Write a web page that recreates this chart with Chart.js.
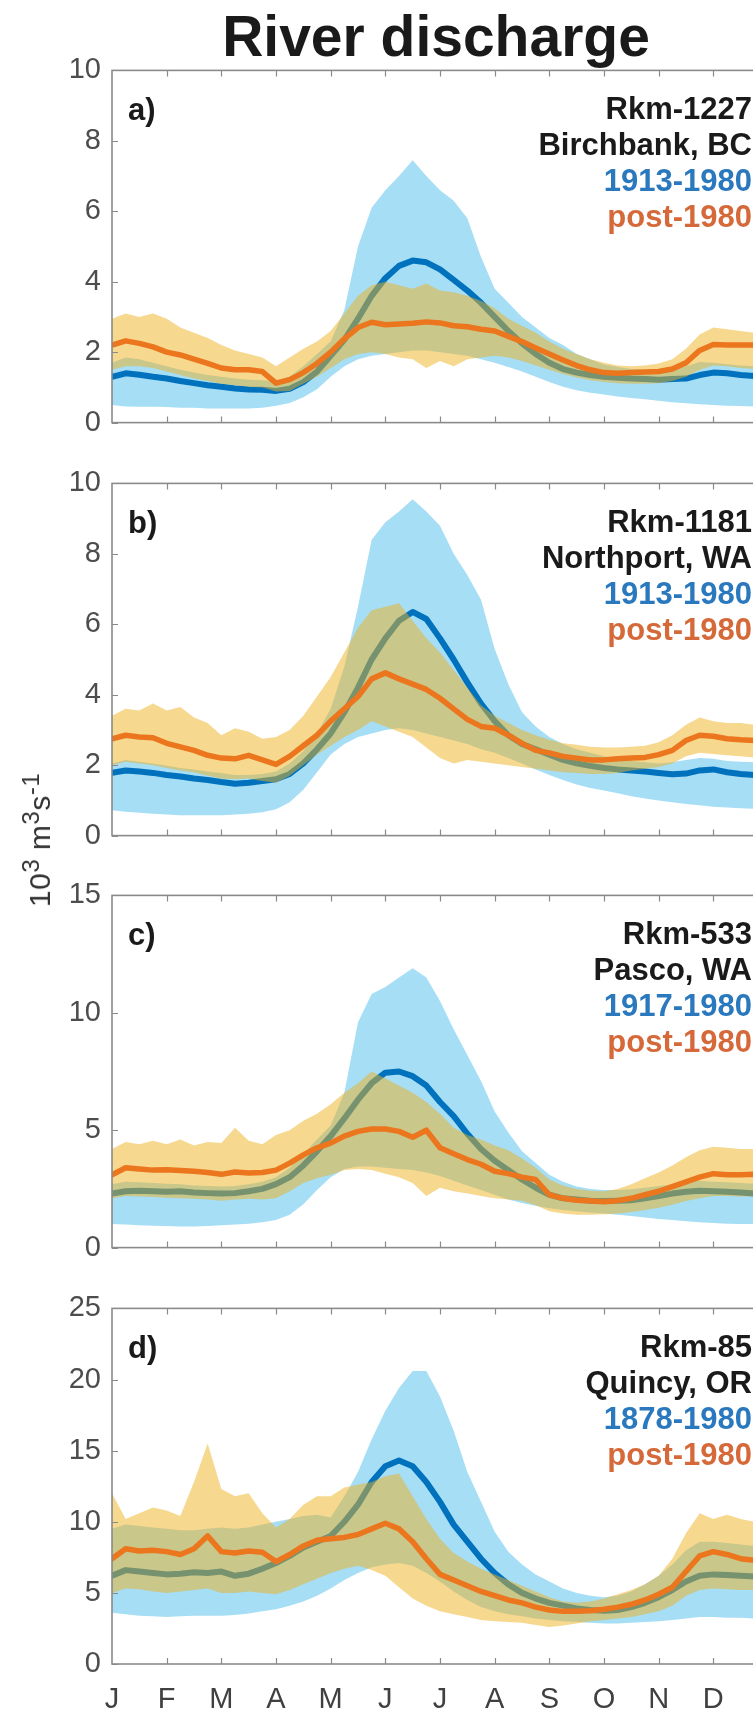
<!DOCTYPE html>
<html>
<head>
<meta charset="utf-8">
<title>River discharge</title>
<script src="https://cdn.jsdelivr.net/npm/chart.js@4.4.1/dist/chart.umd.min.js"></script>
<style>
  html, body { margin: 0; padding: 0; background: #fff; overflow: hidden; }
  #wrap { position: relative; width: 753px; height: 1712px; overflow: hidden; background: #fff; }
  #wrap canvas { position: absolute; left: 0; }
  #title {
    position: absolute; left: 0; top: 8px; width: 872px; text-align: center;
    font: bold 57px "Liberation Sans", Arial, sans-serif; line-height: 57px; color: #1a1a1a;
  }
  #ylab {
    position: absolute; left: 40px; top: 840px;
    transform: translate(-50%, -50%) rotate(-90deg);
    font: 30px "Liberation Sans", Arial, sans-serif; line-height: 30px;
    white-space: nowrap; color: #333; letter-spacing: 0.5px;
  }
  #ylab sup { font-size: 0.8em; vertical-align: 0.45em; line-height: 0; }
</style>
</head>
<body>
<div id="wrap">
  <canvas id="panelA"></canvas>
  <canvas id="panelB"></canvas>
  <canvas id="panelC"></canvas>
  <canvas id="panelD"></canvas>
  <div id="title">River discharge</div>
  <div id="ylab">10<sup>3</sup> m<sup>3</sup>s<sup>-1</sup></div>
</div>
<script>
// Month tick labels (ticks sit at the start of each month, x in month units)
const monthLabels = ['J', 'F', 'M', 'A', 'M', 'J', 'J', 'A', 'S', 'O', 'N', 'D'];

// Sample positions along the year, in months from 1 January
const monthPos = [0, 0.25, 0.5, 0.75, 1, 1.25, 1.5, 1.75, 2, 2.25, 2.5, 2.75, 3, 3.25, 3.5, 3.75,
  4, 4.25, 4.5, 4.75, 5, 5.25, 5.5, 5.75, 6, 6.25, 6.5, 6.75, 7, 7.25, 7.5, 7.75,
  8, 8.25, 8.5, 8.75, 9, 9.25, 9.5, 9.75, 10, 10.25, 10.5, 10.75, 11, 11.25, 11.5, 11.75, 12];

// a) Rkm-1227 Birchbank, BC  (10^3 m^3/s)
const blueMeanA  = [1.30,1.40,1.36,1.30,1.25,1.18,1.12,1.06,1.02,0.97,0.94,0.93,0.90,0.96,1.15,1.45,1.90,2.35,2.95,3.60,4.10,4.45,4.60,4.55,4.35,4.05,3.75,3.40,3.00,2.60,2.25,1.95,1.70,1.52,1.42,1.35,1.30,1.27,1.25,1.24,1.22,1.24,1.25,1.35,1.42,1.40,1.35,1.32,1.30];
const blueUpperA = [1.70,1.85,1.80,1.70,1.60,1.50,1.42,1.35,1.30,1.25,1.22,1.20,1.18,1.30,1.60,1.95,2.30,3.20,5.00,6.10,6.60,7.00,7.45,7.00,6.60,6.30,5.80,4.70,3.80,3.40,3.00,2.70,2.40,2.20,1.95,1.80,1.65,1.58,1.52,1.50,1.50,1.52,1.60,1.72,1.70,1.66,1.62,1.60,1.60];
const blueLowerA = [0.50,0.46,0.45,0.45,0.44,0.42,0.42,0.40,0.40,0.40,0.40,0.42,0.48,0.56,0.72,0.95,1.30,1.60,1.80,1.90,1.95,2.00,2.05,2.05,2.00,1.95,1.90,1.80,1.70,1.58,1.45,1.30,1.15,1.02,0.92,0.85,0.80,0.74,0.70,0.66,0.62,0.58,0.55,0.52,0.50,0.48,0.47,0.46,0.45];
const orangeMeanA  = [2.20,2.32,2.25,2.15,2.00,1.92,1.80,1.68,1.55,1.50,1.50,1.45,1.12,1.22,1.42,1.68,2.00,2.38,2.70,2.85,2.78,2.80,2.82,2.86,2.83,2.75,2.72,2.65,2.60,2.45,2.30,2.12,1.95,1.78,1.62,1.50,1.42,1.40,1.42,1.44,1.45,1.52,1.70,2.05,2.22,2.20,2.20,2.20,2.20];
const orangeUpperA = [2.95,3.10,3.00,3.10,2.95,2.70,2.55,2.40,2.20,2.05,1.95,1.85,1.60,1.85,2.10,2.30,2.60,3.10,3.60,3.90,4.00,3.90,3.80,3.95,3.75,3.70,3.60,3.45,3.25,2.95,2.75,2.55,2.30,2.10,1.95,1.80,1.70,1.62,1.60,1.62,1.68,1.80,2.10,2.50,2.70,2.65,2.60,2.55,2.50];
const orangeLowerA = [1.50,1.60,1.60,1.55,1.45,1.35,1.25,1.18,1.10,1.06,1.02,1.00,0.88,0.90,1.10,1.30,1.55,1.80,1.95,2.00,1.95,1.85,1.80,1.55,1.75,1.60,1.80,1.85,1.90,1.85,1.75,1.62,1.50,1.38,1.28,1.20,1.15,1.12,1.10,1.10,1.12,1.18,1.30,1.50,1.62,1.60,1.55,1.52,1.50];

// b) Rkm-1181 Northport, WA
const blueMeanB  = [1.78,1.85,1.82,1.78,1.72,1.68,1.62,1.58,1.52,1.47,1.50,1.55,1.60,1.75,2.05,2.45,2.90,3.50,4.20,5.00,5.60,6.10,6.35,6.15,5.60,5.00,4.35,3.75,3.25,2.85,2.60,2.45,2.30,2.15,2.05,1.98,1.92,1.88,1.85,1.82,1.78,1.74,1.76,1.85,1.88,1.80,1.75,1.72,1.70];
const blueUpperB = [2.05,2.15,2.10,2.05,1.98,1.92,1.88,1.82,1.78,1.72,1.72,1.75,1.82,2.05,2.40,2.90,3.60,4.80,6.50,8.40,8.90,9.20,9.55,9.20,8.80,8.00,7.40,6.70,5.30,4.30,3.50,3.10,2.80,2.60,2.45,2.35,2.25,2.18,2.12,2.08,2.05,2.08,2.15,2.20,2.18,2.12,2.10,2.08,2.05];
const blueLowerB = [0.72,0.68,0.65,0.62,0.60,0.58,0.58,0.58,0.58,0.60,0.62,0.66,0.75,0.95,1.30,1.80,2.30,2.60,2.80,2.90,3.00,3.05,3.00,2.90,2.80,2.70,2.60,2.45,2.35,2.20,2.05,1.88,1.72,1.58,1.45,1.35,1.28,1.20,1.12,1.05,1.00,0.95,0.90,0.86,0.82,0.80,0.78,0.76,0.75];
const orangeMeanB  = [2.75,2.85,2.80,2.78,2.62,2.52,2.42,2.28,2.20,2.18,2.28,2.15,2.02,2.25,2.55,2.85,3.25,3.60,3.95,4.45,4.62,4.45,4.30,4.15,3.90,3.60,3.30,3.10,3.05,2.85,2.62,2.42,2.35,2.25,2.20,2.15,2.15,2.18,2.20,2.22,2.30,2.42,2.70,2.85,2.82,2.75,2.72,2.70,2.70];
const orangeUpperB = [3.40,3.60,3.55,3.75,3.55,3.65,3.35,3.20,2.85,3.05,2.95,2.75,2.80,3.00,3.40,3.95,4.50,5.20,5.90,6.40,6.50,6.60,6.10,5.60,5.20,4.70,4.20,3.70,3.40,3.20,3.00,2.85,2.72,2.62,2.58,2.52,2.50,2.50,2.52,2.55,2.65,2.85,3.15,3.35,3.25,3.20,3.20,3.15,3.15];
const orangeLowerB = [2.00,2.10,2.05,2.00,1.92,1.85,1.80,1.70,1.62,1.60,1.62,1.55,1.50,1.70,2.00,2.30,2.55,2.80,3.00,3.25,3.10,2.95,2.80,2.50,2.20,2.05,2.15,2.10,2.05,2.00,1.95,1.90,1.85,1.80,1.78,1.75,1.75,1.78,1.85,1.90,1.95,2.05,2.25,2.35,2.32,2.28,2.25,2.22,2.20];

// c) Rkm-533 Pasco, WA
const blueMeanC  = [2.30,2.40,2.42,2.40,2.38,2.40,2.35,2.32,2.30,2.32,2.40,2.50,2.70,3.00,3.50,4.10,4.75,5.50,6.30,7.00,7.45,7.50,7.30,6.90,6.20,5.60,4.85,4.20,3.70,3.30,2.90,2.55,2.25,2.10,2.05,2.00,1.98,2.00,2.02,2.10,2.20,2.30,2.38,2.42,2.40,2.38,2.35,2.30,2.30];
const blueUpperC = [2.70,2.80,2.78,2.75,2.72,2.70,2.65,2.62,2.60,2.62,2.70,2.80,3.00,3.40,4.00,4.60,5.20,6.60,9.60,10.80,11.10,11.50,11.90,11.50,10.50,9.30,8.20,7.10,5.80,4.90,4.10,3.60,3.10,2.80,2.60,2.50,2.45,2.45,2.48,2.55,2.62,2.70,2.80,2.85,2.80,2.78,2.75,2.72,2.70];
const blueLowerC = [1.00,0.98,0.95,0.93,0.92,0.90,0.90,0.92,0.95,0.98,1.02,1.08,1.18,1.40,1.85,2.45,3.00,3.35,3.45,3.45,3.40,3.35,3.30,3.20,3.05,2.85,2.65,2.45,2.25,2.05,1.90,1.78,1.68,1.60,1.55,1.50,1.45,1.40,1.35,1.28,1.22,1.18,1.12,1.08,1.05,1.02,1.00,1.00,1.00];
const orangeMeanC  = [3.10,3.40,3.35,3.30,3.32,3.28,3.25,3.20,3.12,3.22,3.18,3.20,3.30,3.60,3.95,4.25,4.45,4.75,4.95,5.05,5.05,4.95,4.70,5.00,4.25,4.00,3.75,3.55,3.25,3.15,3.00,2.90,2.25,2.10,2.02,1.98,1.95,2.00,2.10,2.25,2.40,2.60,2.80,3.00,3.15,3.10,3.10,3.12,3.10];
const orangeUpperC = [4.20,4.50,4.40,4.55,4.40,4.60,4.35,4.50,4.45,5.10,4.55,4.40,4.80,5.00,5.40,5.70,6.10,6.60,7.00,7.50,7.20,6.90,6.60,6.20,5.70,5.10,4.80,4.60,4.35,4.15,3.80,3.40,2.90,2.65,2.50,2.42,2.40,2.50,2.70,2.95,3.20,3.50,3.85,4.15,4.30,4.25,4.20,4.20,4.15];
const orangeLowerC = [2.10,2.20,2.18,2.15,2.12,2.10,2.08,2.05,2.00,2.05,2.08,2.05,2.10,2.40,2.75,2.95,3.10,3.30,3.35,3.30,3.15,3.00,2.75,2.20,2.55,2.40,2.30,2.20,2.10,2.05,2.00,1.80,1.55,1.45,1.40,1.40,1.42,1.45,1.52,1.60,1.70,1.82,1.98,2.10,2.20,2.20,2.18,2.18,2.15];

// d) Rkm-85 Quincy, OR
const blueMeanD  = [6.20,6.60,6.50,6.40,6.30,6.35,6.45,6.40,6.50,6.20,6.35,6.70,7.10,7.60,8.20,8.60,9.00,10.00,11.20,12.80,13.90,14.30,13.90,12.80,11.40,9.80,8.60,7.40,6.40,5.60,5.00,4.60,4.30,4.10,3.90,3.80,3.75,3.80,4.00,4.30,4.70,5.20,5.80,6.20,6.30,6.25,6.20,6.15,6.10];
const blueUpperD = [9.50,9.80,9.70,9.60,9.50,9.40,9.40,9.50,9.60,9.50,9.60,9.80,10.00,10.20,10.40,10.50,10.30,11.80,13.50,15.80,17.80,19.40,20.60,20.60,18.80,16.40,13.50,11.40,9.30,7.90,7.00,6.30,5.80,5.30,5.00,4.80,4.70,4.80,5.10,5.60,6.20,7.00,8.00,8.60,8.60,8.50,8.40,8.30,8.30];
const blueLowerD = [3.60,3.50,3.40,3.35,3.30,3.35,3.40,3.40,3.40,3.45,3.55,3.70,3.85,4.10,4.40,4.80,5.30,5.90,6.40,6.80,7.00,7.10,6.90,6.40,5.80,5.10,4.50,4.00,3.70,3.50,3.35,3.20,3.10,3.00,2.95,2.90,2.85,2.85,2.90,2.95,3.00,3.10,3.20,3.30,3.30,3.25,3.25,3.20,3.20];
const orangeMeanD  = [7.40,8.10,7.95,8.00,7.90,7.70,8.10,9.00,7.90,7.80,7.95,7.85,7.20,7.70,8.30,8.70,8.80,8.90,9.10,9.50,9.90,9.50,8.60,7.40,6.30,5.90,5.50,5.10,4.80,4.50,4.30,4.00,3.80,3.70,3.70,3.75,3.85,4.00,4.20,4.50,4.90,5.40,6.50,7.60,7.90,7.70,7.40,7.30,7.30];
const orangeUpperD = [12.00,10.20,10.60,11.00,10.80,10.40,12.80,15.50,12.30,11.80,12.00,10.60,9.60,10.20,11.20,11.80,11.80,12.40,12.60,12.80,13.20,13.40,11.80,10.20,8.80,7.80,7.20,6.70,6.30,5.90,5.50,5.10,4.70,4.40,4.30,4.40,4.60,4.90,5.20,5.60,6.20,7.40,9.20,10.60,10.20,10.50,10.20,10.00,10.00];
const orangeLowerD = [5.00,5.30,5.25,5.10,5.00,5.10,5.20,5.30,5.00,5.00,5.10,5.00,4.90,5.20,5.60,6.00,6.40,6.70,6.90,6.60,6.20,5.40,4.60,4.10,3.70,3.50,3.30,3.10,3.00,2.95,2.90,2.75,2.60,2.70,2.85,3.00,3.10,3.20,3.30,3.50,3.70,4.10,4.80,5.20,5.30,5.25,5.20,5.20,5.20];

// Station captions per panel
const captionsA = ['Rkm-1227', 'Birchbank, BC', '1913-1980', 'post-1980'];
const captionsB = ['Rkm-1181', 'Northport, WA', '1913-1980', 'post-1980'];
const captionsC = ['Rkm-533', 'Pasco, WA', '1917-1980', 'post-1980'];
const captionsD = ['Rkm-85', 'Quincy, OR', '1878-1980', 'post-1980'];

// Y-axis ranges and tick steps per panel
const yMax  = [10, 10, 15, 25];
const yStep = [2, 2, 5, 5];

const BLUE_LINE   = 'rgb(0,114,189)';
const ORANGE_LINE = 'rgb(236,118,30)';
const BLUE_FILL   = 'rgba(77,190,238,0.5)';
const YELLOW_FILL = 'rgba(237,177,32,0.5)';
const TEXT_DARK   = '#1a1a1a';
const TEXT_BLUE   = '#2a78bd';
const TEXT_ORANGE = '#d6693a';
const AXIS_GREY   = '#8a8a8a';
const TICK_FONT   = { family: '"Liberation Sans", Arial, sans-serif', size: 29 };

// Axis box, inward ticks, panel tag and station caption
const panelDecor = {
  id: 'panelDecor',
  afterDatasetsDraw(chart, args, opts) {
    const { ctx, chartArea: a, scales: { x, y } } = chart;
    ctx.save();
    ctx.strokeStyle = AXIS_GREY;
    ctx.lineWidth = 1.6;
    ctx.strokeRect(a.left, a.top, a.right - a.left, a.bottom - a.top);
    ctx.lineWidth = 1.2;
    ctx.beginPath();
    monthLabels.forEach((_, i) => {
      if (i === 0) return;
      const px = Math.round(x.getPixelForValue(i)) + 0.5;
      ctx.moveTo(px, a.bottom); ctx.lineTo(px, a.bottom - 6);
      ctx.moveTo(px, a.top);    ctx.lineTo(px, a.top + 6);
    });
    y.ticks.forEach(t => {
      const py = Math.round(y.getPixelForValue(t.value)) + 0.5;
      ctx.moveTo(a.left, py);  ctx.lineTo(a.left + 6, py);
      ctx.moveTo(a.right, py); ctx.lineTo(a.right - 6, py);
    });
    ctx.stroke();

    ctx.font = 'bold 31px "Liberation Sans", Arial, sans-serif';
    ctx.textBaseline = 'alphabetic';
    ctx.textAlign = 'left';
    ctx.fillStyle = TEXT_DARK;
    ctx.fillText(opts.tag, a.left + 16, a.top + 50);
    ctx.textAlign = 'right';
    const colors = [TEXT_DARK, TEXT_DARK, TEXT_BLUE, TEXT_ORANGE];
    opts.captions.forEach((txt, i) => {
      ctx.fillStyle = colors[i];
      ctx.fillText(txt, 752, a.top + 49 + i * 36);
    });
    ctx.restore();
  }
};

function pts(vals) {
  return vals.map((v, i) => ({ x: monthPos[i], y: v }));
}

// Plot-area placement on the page (top / bottom of each axes box, px)
const boxTop = [66, 479, 891, 1304];
const boxBottom = [427, 840, 1252, 1664];
const PAD = 24;
const PAGE_H = 1712;
const CANVAS_W = 790;

const panels = [
  { id: 'panelA', tag: 'a)', captions: captionsA,
    bLo: blueLowerA, bHi: blueUpperA, bMean: blueMeanA, oLo: orangeLowerA, oHi: orangeUpperA, oMean: orangeMeanA },
  { id: 'panelB', tag: 'b)', captions: captionsB,
    bLo: blueLowerB, bHi: blueUpperB, bMean: blueMeanB, oLo: orangeLowerB, oHi: orangeUpperB, oMean: orangeMeanB },
  { id: 'panelC', tag: 'c)', captions: captionsC,
    bLo: blueLowerC, bHi: blueUpperC, bMean: blueMeanC, oLo: orangeLowerC, oHi: orangeUpperC, oMean: orangeMeanC },
  { id: 'panelD', tag: 'd)', captions: captionsD,
    bLo: blueLowerD, bHi: blueUpperD, bMean: blueMeanD, oLo: orangeLowerD, oHi: orangeUpperD, oMean: orangeMeanD }
];

panels.forEach((p, k) => {
  const last = k === panels.length - 1;
  const canvas = document.getElementById(p.id);
  const top = boxTop[k] - PAD;
  const bottomSpace = last ? PAGE_H - boxBottom[k] : PAD;
  const height = boxBottom[k] - boxTop[k] + PAD + bottomSpace;
  canvas.width = CANVAS_W;
  canvas.height = height;
  canvas.style.top = top + 'px';
  canvas.style.width = CANVAS_W + 'px';
  canvas.style.height = height + 'px';

  const invisible = { borderWidth: 0, pointRadius: 0, fill: false };
  new Chart(canvas, {
    type: 'line',
    data: {
      datasets: [
        Object.assign({ label: 'blue low', data: pts(p.bLo), order: 5 }, invisible),
        { label: 'blue range', data: pts(p.bHi), order: 4, borderWidth: 0, pointRadius: 0,
          fill: '-1', backgroundColor: BLUE_FILL },
        { label: 'pre-1980 mean', data: pts(p.bMean), order: 3, borderColor: BLUE_LINE,
          borderWidth: 6, pointRadius: 0, fill: false, borderJoinStyle: 'round', borderCapStyle: 'round' },
        Object.assign({ label: 'orange low', data: pts(p.oLo), order: 2 }, invisible),
        { label: 'orange range', data: pts(p.oHi), order: 1, borderWidth: 0, pointRadius: 0,
          fill: '-1', backgroundColor: YELLOW_FILL },
        { label: 'post-1980 mean', data: pts(p.oMean), order: 0, borderColor: ORANGE_LINE,
          borderWidth: 5.5, pointRadius: 0, fill: false, borderJoinStyle: 'round', borderCapStyle: 'round' }
      ]
    },
    options: {
      responsive: false,
      animation: false,
      events: [],
      layout: { padding: { top: PAD, left: 0, right: CANVAS_W - 768, bottom: last ? 0 : PAD } },
      elements: { line: { tension: 0 }, point: { radius: 0 } },
      plugins: {
        legend: { display: false },
        tooltip: { enabled: false },
        filler: { propagate: false },
        panelDecor: { tag: p.tag, captions: p.captions }
      },
      scales: {
        x: {
          type: 'linear', min: 0, max: 12, display: last,
          afterFit: s => { s.height = last ? PAGE_H - boxBottom[k] : 0; },
          grid: { display: false, drawTicks: false },
          border: { display: false },
          ticks: {
            stepSize: 1, autoSkip: false, maxRotation: 0, minRotation: 0,
            padding: 19, font: TICK_FONT, color: '#404040',
            callback: v => (monthLabels[v] !== undefined ? monthLabels[v] : '')
          }
        },
        y: {
          min: 0, max: yMax[k],
          afterFit: s => { s.width = 112; },
          grid: { display: false, drawTicks: false },
          border: { display: false },
          ticks: { stepSize: yStep[k], padding: 11, font: TICK_FONT, color: '#4d4d4d' }
        }
      }
    },
    plugins: [panelDecor]
  });
});
</script>
</body>
</html>
